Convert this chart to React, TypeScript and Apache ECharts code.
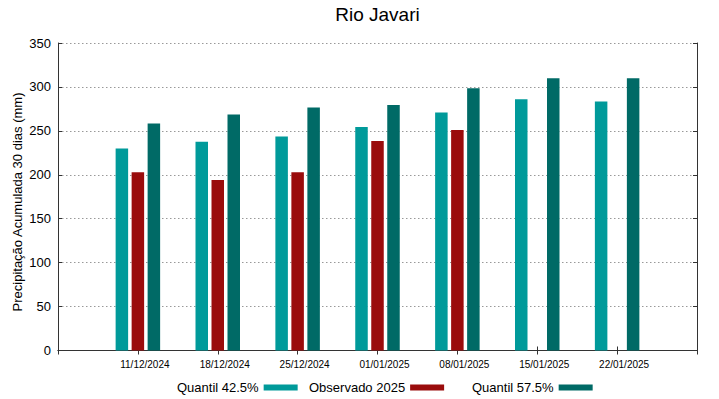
import React, { useEffect, useRef } from "react";
import * as echarts from "echarts";

const TITLE = "Rio Javari";
const Y_NAME = "Precipitação Acumulada 30 dias (mm)";
const dates = ["11/12/2024", "18/12/2024", "25/12/2024", "01/01/2025", "08/01/2025", "15/01/2025", "22/01/2025"];
const quantil425 = [230, 237.5, 243.5, 254.5, 271, 286, 283.5];
const observado2025: (number | null)[] = [203, 194, 203, 238.5, 251, null, null];
const quantil575 = [258.5, 268.5, 276.5, 279.5, 298.5, 310, 310];
const seriesNames = ["Quantil 42.5%", "Observado 2025", "Quantil 57.5%"];
const colors = ["#009a9a", "#9a0c0c", "#006a66"];

const FONT = "'Liberation Sans', Arial, sans-serif";

export default function App() {
  const ref = useRef<HTMLDivElement>(null);
  useEffect(() => {
    if (!ref.current) return;
    const chart = echarts.init(ref.current, undefined, { renderer: "svg" });
    const cats = ["", ...dates, ""];
    const pad = (a: (number | null)[]) => [null, ...a, null];
    const allData = [quantil425, observado2025, quantil575];
    const axisLine = { show: true, lineStyle: { color: "#333", width: 1 } };
    const xCommon = {
      type: "category" as const,
      data: cats,
      boundaryGap: false,
      axisLine,
      axisTick: { show: true, inside: true, length: 4, lineStyle: { color: "#333" }, interval: 0 },
      splitLine: { show: false },
    };
    const yCommon = {
      type: "value" as const,
      min: 0,
      max: 350,
      interval: 50,
      axisLine,
      axisTick: { show: true, inside: true, length: 4, lineStyle: { color: "#333" } },
    };
    chart.setOption({
      animation: false,
      textStyle: { fontFamily: FONT },
      title: {
        text: TITLE,
        left: 377.5,
        textAlign: "center",
        top: 5,
        padding: 0,
        textStyle: { fontFamily: FONT, fontSize: 19, fontWeight: "normal", color: "#000" },
      },
      grid: { left: 58, right: 22, top: 43, bottom: 48.5, containLabel: false },
      legend: seriesNames.map((n, i) => ({
        data: [n],
        left: [177, 309, 472][i],
        top: 381,
        padding: 0,
        align: "right",
        icon: "rect",
        itemWidth: 34,
        itemHeight: 6,
        textStyle: { fontFamily: FONT, fontSize: 13, color: "#000" },
        selectedMode: false,
      })),
      xAxis: [
        {
          ...xCommon,
          position: "bottom",
          axisLabel: {
            show: true,
            interval: 0,
            fontFamily: FONT,
            fontSize: 10,
            color: "#000",
            margin: 9,
            padding: [0, 0, 0, 14],
          },
        },
        { ...xCommon, position: "top", axisLabel: { show: false } },
      ],
      yAxis: [
        {
          ...yCommon,
          position: "left",
          axisLabel: { show: true, fontFamily: FONT, fontSize: 13, color: "#000", margin: 7 },
          splitLine: { show: true, lineStyle: { color: "#999", type: [1.5, 2.5], width: 1 } },
        },
        {
          ...yCommon,
          position: "right",
          axisLabel: { show: false },
          splitLine: { show: false },
        },
      ],
      graphic: [
        {
          type: "text",
          x: 17,
          y: 202,
          rotation: Math.PI / 2,
          style: {
            text: Y_NAME,
            fontFamily: FONT,
            fontSize: 13,
            fill: "#000",
            textAlign: "center",
            textVerticalAlign: "middle",
          },
        },
      ],
      series: seriesNames.map((n, i) => ({
        name: n,
        type: "bar",
        xAxisIndex: 0,
        yAxisIndex: 0,
        data: pad(allData[i]),
        barWidth: 12.5,
        barGap: "28%",
        itemStyle: { color: colors[i] },
      })),
    });
    return () => chart.dispose();
  }, []);
  return <div ref={ref} style={{ width: 719, height: 399, position: "absolute", left: 0, top: 0 }} />;
}
